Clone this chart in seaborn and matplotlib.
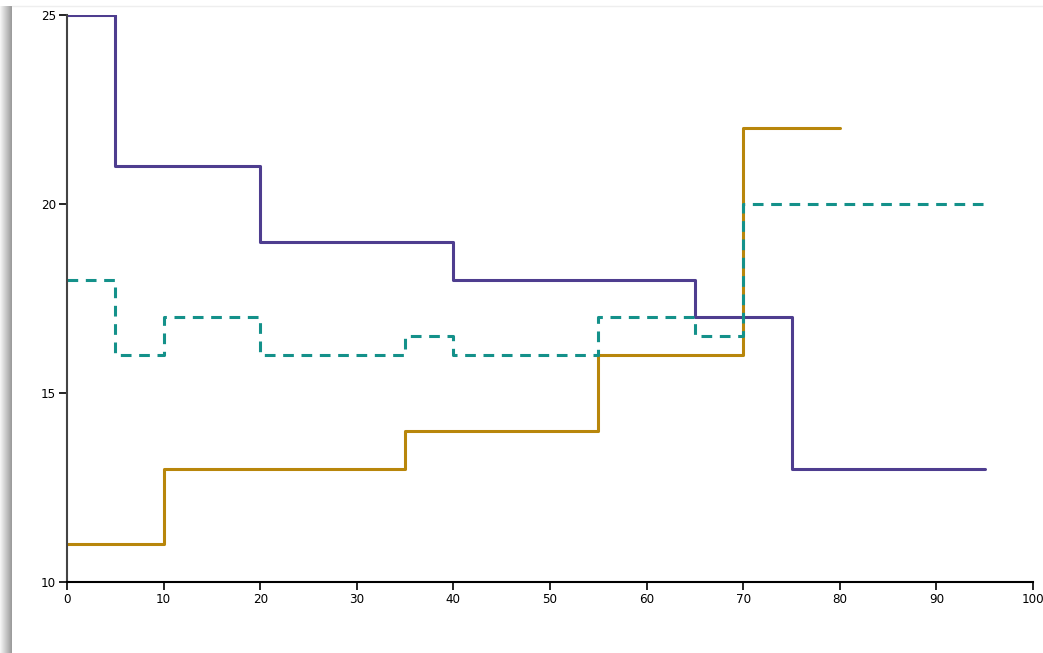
import matplotlib as mpl
import matplotlib.pyplot as plt
import numpy as np
import pandas as pd
import seaborn as sns

purple_x = [0, 5, 20, 40, 65, 75, 95]
purple_y = [25, 21, 19, 18, 17, 13, 13]
gold_x = [0, 10, 35, 55, 70, 80]
gold_y = [11, 13, 14, 16, 22, 22]
teal_x = [0, 5, 10, 20, 35, 40, 55, 65, 70, 95]
teal_y = [18, 16, 17, 16, 16.5, 16, 17, 16.5, 20, 20]

x_ticks = list(range(0, 101, 10))
y_ticks = [10, 15, 20, 25]

sns.set_style("white")
plt.rcParams['font.family'] = ['DejaVu Sans']
plt.rcParams['font.stretch'] = 'condensed'

fig = plt.figure(figsize=(10.43, 6.53), dpi=100)

# card shadow on the left edge
shadow = np.tile(np.linspace(0.97, 0.6, 40), (10, 1))
sax = fig.add_axes([0, 0, 12 / 1043, 1 - 6 / 653])
sax.imshow(np.dstack([shadow] * 3), aspect='auto', extent=[0, 1, 0, 1])
sax.axis('off')
fig.add_artist(plt.Line2D([12 / 1043, 1], [1 - 6 / 653] * 2, color='#eeeeee', lw=1))

ax = fig.add_axes([67 / 1043, 1 - 582 / 653, 966 / 1043, 567 / 653])

df_p = pd.DataFrame({'x': purple_x, 'y': purple_y})
df_g = pd.DataFrame({'x': gold_x, 'y': gold_y})
df_t = pd.DataFrame({'x': teal_x, 'y': teal_y})

sns.lineplot(df_p, x='x', y='y', ax=ax, color='#4E3D8F', lw=2.2, drawstyle='steps-post')
sns.lineplot(df_g, x='x', y='y', ax=ax, color='#B8860B', lw=2.2, drawstyle='steps-post')
sns.lineplot(df_t, x='x', y='y', ax=ax, color='#14918A', lw=2.2, drawstyle='steps-post',
             dashes=False, linestyle=(0, (3.5, 2.5)))

ax.set_xlim(0, 100)
ax.set_ylim(10, 25)
ax.set_xticks(x_ticks)
ax.set_yticks(y_ticks)
ax.set_xlabel('')
ax.set_ylabel('')
for s in ['top', 'right']:
    ax.spines[s].set_visible(False)
ax.spines['left'].set_color('#444444')
ax.spines['bottom'].set_color('black')
ax.spines['left'].set_linewidth(1.5)
ax.spines['bottom'].set_linewidth(1.5)
ax.tick_params(axis='both', direction='out', length=6, width=1.2, labelsize=9.5,
               colors='black', pad=2, bottom=True, left=True)

fig.savefig('out.png', dpi=100)
